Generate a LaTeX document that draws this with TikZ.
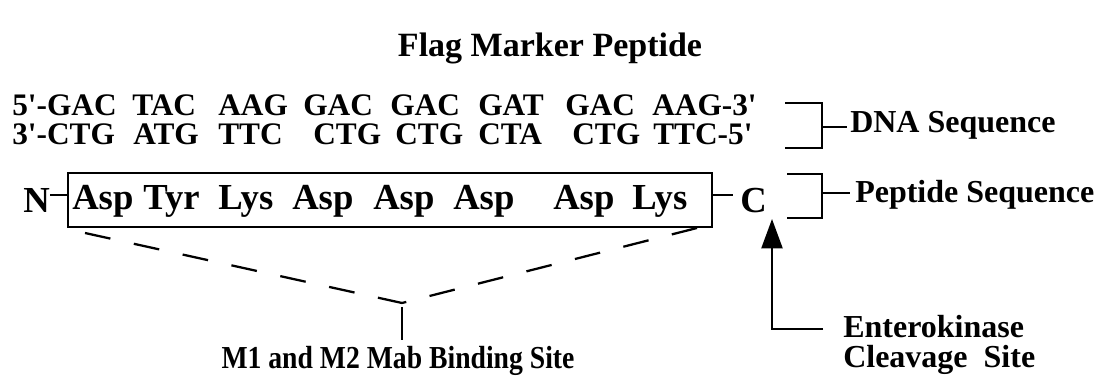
\documentclass[tikz,border=0pt]{standalone}
\usepackage{fontspec}
\setmainfont{Liberation Serif}[Ligatures=TeXOff]
\usetikzlibrary{arrows.meta}

\tikzset{
  dna/.style={anchor=base west, inner sep=0pt, font=\fontsize{23.5pt}{28pt}\selectfont\bfseries},
  amino/.style={anchor=base west, inner sep=0pt, font=\fontsize{27.5pt}{32pt}\selectfont\bfseries},
  lbl/.style={anchor=base west, inner sep=0pt, font=\fontsize{24pt}{30pt}\selectfont\bfseries},
  brkt/.style={line width=1.6pt},
  site/.style={line width=1.7pt, dash pattern=on 19.5pt off 18pt},
}

\begin{document}
\begin{tikzpicture}[x=0.75pt,y=-0.75pt]
\useasboundingbox (0,0) rectangle (1097,377);

\node[font=\fontsize{25.5pt}{30pt}\selectfont\bfseries, anchor=base, inner sep=0pt] (title) at (550,57) {Flag Marker Peptide};

% the two DNA strands
\foreach \x/\t [count=\i] in {12/5'-GAC,132/TAC,218/AAG,303/GAC,390/GAC,478/GAT,565/GAC,652/AAG-3'}
  \node[dna] (top\i) at (\x,116) {\t};
\foreach \x/\t [count=\i] in {12/3'-CTG,133/ATG,218/TTC,313/CTG,395/CTG,478/CTA,572/CTG,653/TTC-5'}
  \node[dna] (bot\i) at (\x,145) {\t};

% peptide in its box
\node[draw, line width=1.5pt, minimum width=483pt, minimum height=40.5pt, inner sep=0pt] (box) at (390,200) {};
\foreach \x/\t [count=\i] in {72/Asp,143/Tyr,218/Lys,292/Asp,373/Asp,453/Asp,553/Asp,632/Lys}
  \node[amino] (aa\i) at (\x,210) {\t};
\node[amino] (N) at (23,213) {N};
\node[amino] (C) at (740,213) {C};
\coordinate (nl) at (50,195);
\coordinate (cl) at (733,195);
\draw[brkt] (nl) -- (nl -| box.west);
\draw[brkt] (box.east |- cl) -- (cl);

% brackets on the right
\node[lbl] (dnalbl) at (850,133) {DNA Sequence};
\node[lbl] (peplbl) at (855,203) {Peptide Sequence};
\coordinate (dnab) at (822,127);
\coordinate (pepb) at (822,193);
\draw[brkt] (785,103) -- (822,103) -- (822,148) -- (785,148);
\draw[brkt] (787,174) -- (822,174) -- (822,218) -- (787,218);
\draw[brkt, shorten >=2pt] (dnab) -- (dnab -| dnalbl.west);
\draw[brkt, shorten >=4pt] (pepb) -- (pepb -| peplbl.west);

% cleavage site
\node[lbl] (ek1) at (843,338) {Enterokinase};
\node[lbl] (ek2) at (843,368) {Cleavage\ \ Site};
\coordinate (cut) at (772,219);
\coordinate (ekl) at (823,329);
\draw[brkt, -{Triangle[width=15.75pt,length=22pt]}] (ekl) -- (ekl -| cut) -- (cut);

% antibody binding site
\node[lbl, anchor=base] (mab) at (398,369) {\scalebox{0.865}[1]{M1 and M2 Mab Binding Site}};
\coordinate (lt) at (85,233);
\coordinate (rt) at (697,228);
\coordinate (vtx) at (402,303);
\coordinate (mabtop) at (402,340);
\draw[site] (lt) -- (vtx);
\draw[site] (rt) -- (vtx);
\draw[brkt] (vtx) ++(0,4) -- (mabtop);

\end{tikzpicture}
\end{document}
